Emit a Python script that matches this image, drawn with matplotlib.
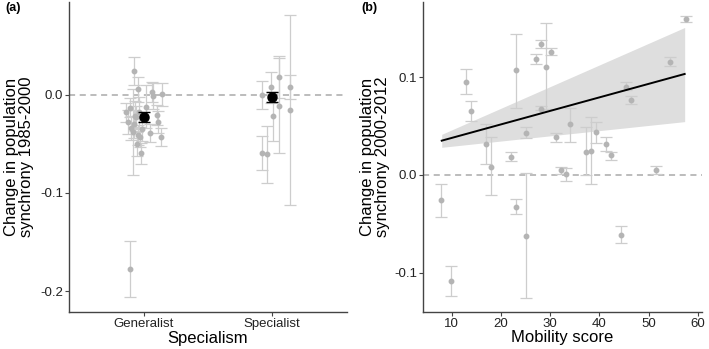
import matplotlib
matplotlib.use("Agg")
import matplotlib.pyplot as plt
import numpy as np

plt.rcParams['font.family'] = ['Liberation Sans', 'DejaVu Sans']

# ---------------- Panel (a) data ----------------
categories = ["Generalist", "Specialist"]

gen_offset = [-0.08, -0.05, 0.06, 0.07, 0.14, -0.14, -0.11, -0.07, -0.06, -0.10,
              -0.085, -0.045, -0.03, -0.02, 0.05, 0.10, 0.11, 0.13, -0.11,
              -0.125, -0.075, -0.04, -0.015, 0.015, -0.055]
gen_value = [0.024, 0.0055, 0.0025, -0.0013, 0.0003, -0.018, -0.013, -0.0217, -0.023, -0.034,
             -0.0377, -0.041, -0.0428, -0.0597, -0.0387, -0.0207, -0.0275, -0.0428, -0.1775,
             -0.028, -0.030, -0.018, -0.035, -0.012, -0.050]
gen_err = [0.014, 0.013, 0.010, 0.013, 0.012, 0.010, 0.010, 0.015, 0.012, 0.012,
           0.044, 0.010, 0.010, 0.011, 0.009, 0.010, 0.011, 0.009, 0.029,
           0.012, 0.014, 0.016, 0.012, 0.022, 0.012]

spec_offset = [-0.08, -0.01, 0.005, 0.055, 0.055, 0.14, 0.14, -0.08, -0.04]
spec_value = [0.0, 0.0075, -0.022, 0.018, -0.011, 0.008, -0.0156, -0.059, -0.0604]
spec_err = [0.0145, 0.0155, 0.025, 0.021, 0.048, 0.012, 0.097, 0.0175, 0.029]

mean_value = [-0.0227, -0.0023]
mean_err = [0.0052, 0.0051]

# ---------------- Panel (b) data ----------------
mob_x = [12.9, 14.0, 17.0, 18.0, 22.1, 23.0, 25.1, 27.1, 28.1, 28.1, 29.1, 30.1, 31.2,
         34.1, 32.2, 33.3, 37.3, 38.2, 39.3, 41.3, 42.3, 45.4, 46.4, 51.4, 54.4, 57.5,
         7.9, 9.9, 23.0, 25.1, 44.3]
mob_y = [0.0955, 0.0655, 0.0317, 0.0085, 0.0187, 0.107, 0.0433, 0.119, 0.134, 0.068, 0.111,
         0.126, 0.0386, 0.052, 0.005, 0.001, 0.024, 0.025, 0.044, 0.032, 0.020, 0.090,
         0.077, 0.005, 0.116, 0.160, -0.026, -0.1085, -0.0328, -0.0624, -0.061]
mob_lo = [0.0826, 0.055, 0.011, -0.021, 0.0147, 0.069, 0.038, 0.114, 0.130, 0.066, 0.068,
          0.123, 0.0335, 0.034, 0.001, -0.006, 0.0, -0.0095, 0.033, 0.025, 0.0157, 0.087,
          0.073, 0.001, 0.112, 0.157, -0.0427, -0.124, -0.040, -0.126, -0.0696]
mob_hi = [0.108, 0.076, 0.0525, 0.0386, 0.0239, 0.1446, 0.049, 0.1235, 0.138, 0.071, 0.156,
          0.130, 0.0433, 0.069, 0.0085, 0.0075, 0.049, 0.059, 0.0545, 0.039, 0.024, 0.095,
          0.081, 0.009, 0.1205, 0.163, -0.009, -0.0928, -0.025, 0.002, -0.052]

fit_x = [8.0, 57.3]
fit_y = [0.0351, 0.1034]
fit_lo = [0.0283, 0.0546]
fit_hi = [0.0416, 0.151]

# ---------------- Styling ----------------
pt_col = '#b4b4b4'
err_col = '#cdcdcd'
axis_col = '#444444'
tick_fs = 9.5
lab_fs = 12

fig = plt.figure(figsize=(7.09, 3.49), dpi=100)
axA = fig.add_axes([0.0973, 0.106, 0.392, 0.888])
axB = fig.add_axes([0.5966, 0.107, 0.3934, 0.887])

def style(ax):
    for s in ['top', 'right']:
        ax.spines[s].set_visible(False)
    for s in ['left', 'bottom']:
        ax.spines[s].set_color(axis_col)
        ax.spines[s].set_linewidth(1.0)
    ax.tick_params(axis='both', colors=axis_col, labelcolor='#222222',
                   labelsize=tick_fs, length=2.75, width=0.8, pad=1.5)

# Panel (a)
axA.axhline(0, color='#aaaaaa', ls=(0, (4, 3)), lw=1.1, zorder=1)
gx = [1 + o for o in gen_offset]
sx = [2 + o for o in spec_offset]
axA.errorbar(gx, gen_value, yerr=gen_err, fmt='o', color=pt_col, ecolor=err_col,
             ms=3.2, elinewidth=0.9, capsize=4.3, capthick=0.9, zorder=2)
axA.errorbar(sx, spec_value, yerr=spec_err, fmt='o', color=pt_col, ecolor=err_col,
             ms=3.2, elinewidth=0.9, capsize=4.3, capthick=0.9, zorder=2)
axA.errorbar([1, 2], mean_value, yerr=mean_err, fmt='o', color='black', ecolor='black',
             ms=6.5, elinewidth=1.0, capsize=4.3, capthick=1.0, zorder=4)
axA.set_xlim(0.414, 2.586)
axA.set_ylim(-0.2213, 0.0944)
axA.set_xticks([1, 2])
axA.set_xticklabels(categories)
axA.set_yticks([-0.2, -0.1, 0.0])
axA.set_yticklabels(['-0.2', '-0.1', '0.0'])
axA.set_xlabel('Specialism', fontsize=lab_fs)
axA.set_ylabel('Change in population\nsynchrony 1985-2000', fontsize=lab_fs, linespacing=1.0)
axA.yaxis.set_label_coords(-0.126, 0.5)
axA.xaxis.set_label_coords(0.5, -0.060)
style(axA)

# Panel (b)
axB.axhline(0, color='#aaaaaa', ls=(0, (4, 3)), lw=1.1, zorder=1)
axB.fill_between(fit_x, fit_lo, fit_hi, color='#dedede', lw=0, zorder=1.5)
axB.errorbar(mob_x, mob_y,
             yerr=[np.array(mob_y) - np.array(mob_lo), np.array(mob_hi) - np.array(mob_y)],
             fmt='o', color=pt_col, ecolor=err_col, ms=3.2, elinewidth=0.9,
             capsize=4.3, capthick=0.9, zorder=2)
axB.plot(fit_x, fit_y, color='black', lw=1.4, zorder=4)
axB.set_xlim(4.2, 60.8)
axB.set_ylim(-0.140, 0.177)
axB.set_xticks([10, 20, 30, 40, 50, 60])
axB.set_yticks([-0.1, 0.0, 0.1])
axB.set_yticklabels(['-0.1', '0.0', '0.1'])
axB.set_xlabel('Mobility score', fontsize=lab_fs)
axB.set_ylabel('Change in population\nsynchrony 2000-2012', fontsize=lab_fs, linespacing=1.0)
axB.yaxis.set_label_coords(-0.118, 0.5)
axB.xaxis.set_label_coords(0.5, -0.060)
style(axB)

fig.text(0.007, 0.976, '(a)', fontsize=9, fontweight='bold', ha='left', va='center')
fig.text(0.510, 0.976, '(b)', fontsize=9, fontweight='bold', ha='left', va='center')

fig.savefig('out.png', dpi=100)
